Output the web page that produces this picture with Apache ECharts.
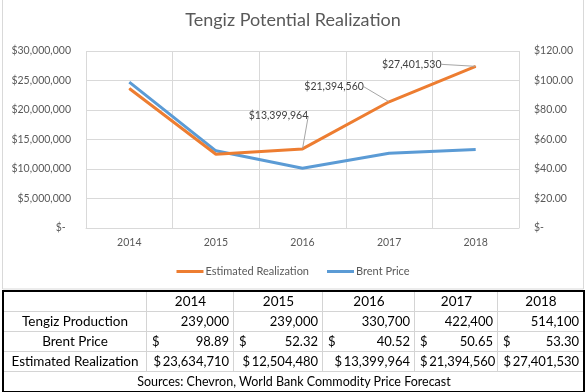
<!DOCTYPE html>
<html>
<head>
<meta charset="utf-8">
<script src="https://cdn.jsdelivr.net/npm/echarts@6/dist/echarts.min.js"></script>
<style>
  html, body { margin: 0; padding: 0; background: #fff; }
  #wrap { position: relative; width: 586px; height: 392px; overflow: hidden; }
  #chart { position: absolute; left: 0; top: 0; width: 586px; height: 392px; }
  #tbl { position: absolute; left: 3px; top: 291px; width: 580px; height: 100px;
         border-collapse: collapse; table-layout: fixed; font-family: Lato, sans-serif; font-size: 13px; color: #000; }
  #tbl td { border: 1px solid #D4D4D4; height: 19px; padding: 0 4px 0 5px; white-space: nowrap; overflow: hidden; line-height: 19px; }
  #tbl { outline: 2px solid #000; outline-offset: -1px; }
  #tbl td.l { text-align: center; padding: 0 1px; font-size: 13.5px; }
  #tbl td.h { text-align: center; font-size: 13.5px; }
  #tbl td.n { text-align: right; }
  #tbl td.src { text-align: center; font-size: 12.5px; }
  #tbl span.d { float: left; }
</style>
</head>
<body>
<div id="wrap">
  <div id="chart"></div>
  <table id="tbl"><colgroup id="cg"></colgroup><tbody id="tb"></tbody></table>
</div>
<script>
// ---- data ----
var years = ['2014', '2015', '2016', '2017', '2018'];
var production = [239000, 239000, 330700, 422400, 514100];
var brentPrice = [98.89, 52.32, 40.52, 50.65, 53.30];
var estimatedRealization = [23634710, 12504480, 13399964, 21394560, 27401530];
var labeledIdx = [2, 3, 4];
var leftTicks = ['$-', '$5,000,000', '$10,000,000', '$15,000,000', '$20,000,000', '$25,000,000', '$30,000,000'];
var rightTicks = ['$-', '$20.00', '$40.00', '$60.00', '$80.00', '$100.00', '$120.00'];
var rowLabels = ['Tengiz Production', 'Brent Price', 'Estimated Realization'];
var sourceText = 'Sources: Chevron, World Bank Commodity Price Forecast';
var titleText = 'Tengiz Potential Realization';
var seriesNames = ['Estimated Realization', 'Brent Price'];

// ---- styling ----
var labelOffsets = { 2: [-24, -33], 3: [-55, -15], 4: [-64, -2] };
var FONT = 'Lato, sans-serif';
var GRAY = '#595959';

function money(n) { return '$' + n.toLocaleString('en-US'); }

var erData = estimatedRealization.map(function (v, i) {
  return labeledIdx.indexOf(i) >= 0 ? { value: v, label: { show: true } } : v;
});

var chart = echarts.init(document.getElementById('chart'), null, { renderer: 'canvas' });
chart.setOption({
  animation: false,
  backgroundColor: '#fff',
  textStyle: { fontFamily: FONT },
  title: {
    text: titleText, left: 'center', top: 6,
    textStyle: { fontFamily: FONT, fontSize: 18, fontWeight: 'normal', color: GRAY }
  },
  legend: {
    data: seriesNames, top: 261, left: 'center', icon: 'rect', itemWidth: 27, itemHeight: 3, itemGap: 18,
    textStyle: { fontFamily: FONT, fontSize: 11, color: GRAY, padding: [0, 0, 0, -3] }
  },
  grid: { left: 86, right: 67, top: 51, bottom: 164, containLabel: false },
  xAxis: {
    type: 'category', data: years, boundaryGap: true,
    axisLine: { lineStyle: { color: '#D9D9D9' } }, axisTick: { show: false },
    splitLine: { show: true, interval: 0, lineStyle: { color: '#D9D9D9' } },
    axisLabel: { color: GRAY, fontFamily: FONT, fontSize: 10.5, margin: 9 }
  },
  yAxis: [{
    type: 'value', min: 0, max: 30000000, interval: 5000000,
    axisLine: { show: false }, axisTick: { show: false },
    splitLine: { lineStyle: { color: '#D9D9D9' } },
    axisLabel: { color: GRAY, fontFamily: FONT, fontSize: 10.5, margin: 15,
      formatter: function (v) { return leftTicks[Math.round(v / 5000000)] + (v === 0 ? '  ' : ''); } }
  }, {
    type: 'value', min: 0, max: 120, interval: 20,
    axisLine: { show: false }, axisTick: { show: false }, splitLine: { show: false },
    axisLabel: { color: GRAY, fontFamily: FONT, fontSize: 10.5, margin: 15,
      formatter: function (v) { return rightTicks[Math.round(v / 20)]; } }
  }],
  series: [{
    name: seriesNames[0], type: 'line', yAxisIndex: 0, data: erData,
    symbol: 'circle', symbolSize: 1, showSymbol: true,
    lineStyle: { color: '#ED7D31', width: 3 }, itemStyle: { color: '#ED7D31' },
    label: { show: false, position: 'inside', color: '#404040', fontFamily: FONT, fontSize: 10.5,
      formatter: function (p) { return money(p.value); } },
    labelLine: { show: true, lineStyle: { color: '#A6A6A6', width: 1 } },
    labelLayout: function (p) {
      var o = labelOffsets[p.dataIndex];
      return o ? { dx: o[0], dy: o[1] } : {};
    },
    z: 3
  }, {
    name: seriesNames[1], type: 'line', yAxisIndex: 1, data: brentPrice,
    symbol: 'none', lineStyle: { color: '#5B9BD5', width: 3 }, itemStyle: { color: '#5B9BD5' }, z: 2
  }],
  graphic: [{
    type: 'rect', shape: { x: 2.5, y: -2, width: 581, height: 291 },
    style: { fill: 'none', stroke: '#D9D9D9', lineWidth: 1 }, silent: true
  }]
});

// ---- table ----
var widths = [143, 87, 89, 92, 83, 86];
document.getElementById('cg').innerHTML = widths.map(function (w) { return '<col style="width:' + w + 'px">'; }).join('');
var tb = document.getElementById('tb');
var html = '<tr><td class="l"></td>';
years.forEach(function (y) { html += '<td class="h">' + y + '</td>'; });
html += '</tr><tr><td class="l">' + rowLabels[0] + '</td>';
production.forEach(function (v) { html += '<td class="n">' + v.toLocaleString('en-US') + '</td>'; });
html += '</tr><tr><td class="l">' + rowLabels[1] + '</td>';
brentPrice.forEach(function (v) { html += '<td class="n"><span class="d">$</span>' + v.toFixed(2) + '</td>'; });
html += '</tr><tr><td class="l">' + rowLabels[2] + '</td>';
estimatedRealization.forEach(function (v) { html += '<td class="n">$&thinsp;' + v.toLocaleString('en-US') + '</td>'; });
html += '</tr><tr><td class="src" colspan="6">' + sourceText + '</td></tr>';
tb.innerHTML = html;
</script>
</body>
</html>
